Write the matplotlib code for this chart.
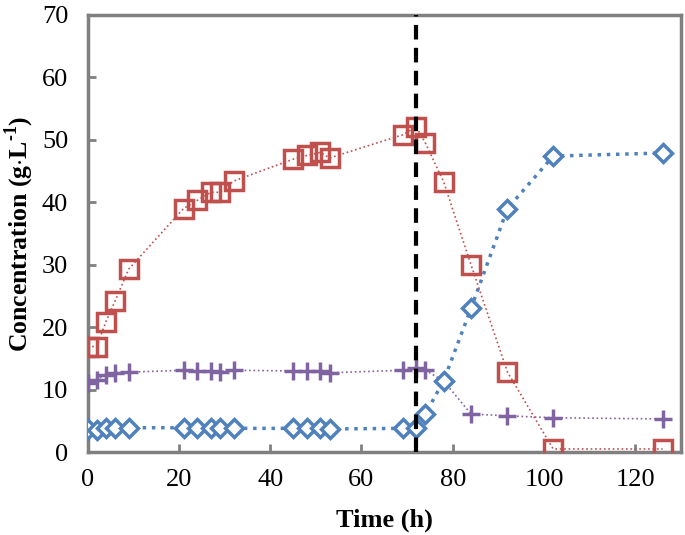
import matplotlib.pyplot as plt

# sampling times (h)
time = [0, 2, 4, 6, 9, 21, 24, 27, 29, 32, 45, 48, 51, 53, 69, 72, 74, 78, 84, 92, 102, 126]

# red squares
squares = [16.9, 16.9, 20.9, 24.2, 29.3, 39.0, 40.3, 41.6, 41.6, 43.4,
           46.9, 47.5, 48.0, 47.1, 50.8, 52.1, 49.5, 43.3, 30.0, 12.8, 0.5, 0.5]
# blue diamonds
diamonds = [3.7, 3.6, 3.9, 3.9, 3.9, 3.9, 3.8, 3.8, 3.8, 3.8,
            3.8, 3.8, 3.8, 3.7, 3.8, 3.9, 6.1, 11.4, 23.0, 39.0, 47.4, 47.9]
# purple pluses
pluses = [11.1, 11.6, 12.4, 12.6, 12.8, 13.1, 13.0, 13.0, 12.9, 13.1,
          13.0, 13.0, 13.0, 12.7, 13.1, 13.4, 13.1, 11.4, 6.1, 5.8, 5.5, 5.3]

switch_time = 72

red = '#C0504D'
blue = '#4F81BD'
purple = '#8064A2'
grey = '#808080'

plt.rcParams['font.family'] = 'Liberation Serif'
plt.rcParams['mathtext.fontset'] = 'custom'
plt.rcParams['mathtext.rm'] = 'Liberation Serif:bold'
plt.rcParams['mathtext.bf'] = 'Liberation Serif:bold'

fig = plt.figure(figsize=(6.85, 5.35), dpi=100)
ax = fig.add_axes([0.128, 0.155, 0.866, 0.817])

ax.plot(time, pluses, linestyle=':', color=purple, lw=1.2, marker='+',
        ms=13, mew=2.5, zorder=3)
ax.plot(time, diamonds, linestyle=':', color=blue, lw=2.5, marker='D',
        ms=9.5, mew=2.5, mfc='white', mec=blue, zorder=4)
ax.plot(time, squares, linestyle=':', color=red, lw=1.2, marker='s',
        ms=12.5, mew=2.5, mfc='none', mec=red, zorder=5)

ax.axvline(switch_time, color='black', lw=3, linestyle=(0, (3.5, 2)), zorder=6)

ax.set_xlim(0, 130)
ax.set_ylim(0, 70)
ax.set_xticks(range(0, 121, 20))
ax.set_yticks(range(0, 71, 10))

for s in ax.spines.values():
    s.set_color(grey)
    s.set_linewidth(2.5)
ax.tick_params(direction='in', color=grey, width=2, length=6, labelsize=19)
ax.tick_params(axis='x', pad=12)
ax.tick_params(axis='y', pad=14)

ax.set_xlabel('Time (h)', fontsize=19, fontweight='bold', labelpad=13)
ax.set_ylabel(r'Concentration (g$\cdot$L$^{\text{-1}}$)', fontsize=18.5,
              fontweight='bold', labelpad=4)

fig.savefig('out.png', dpi=100)
